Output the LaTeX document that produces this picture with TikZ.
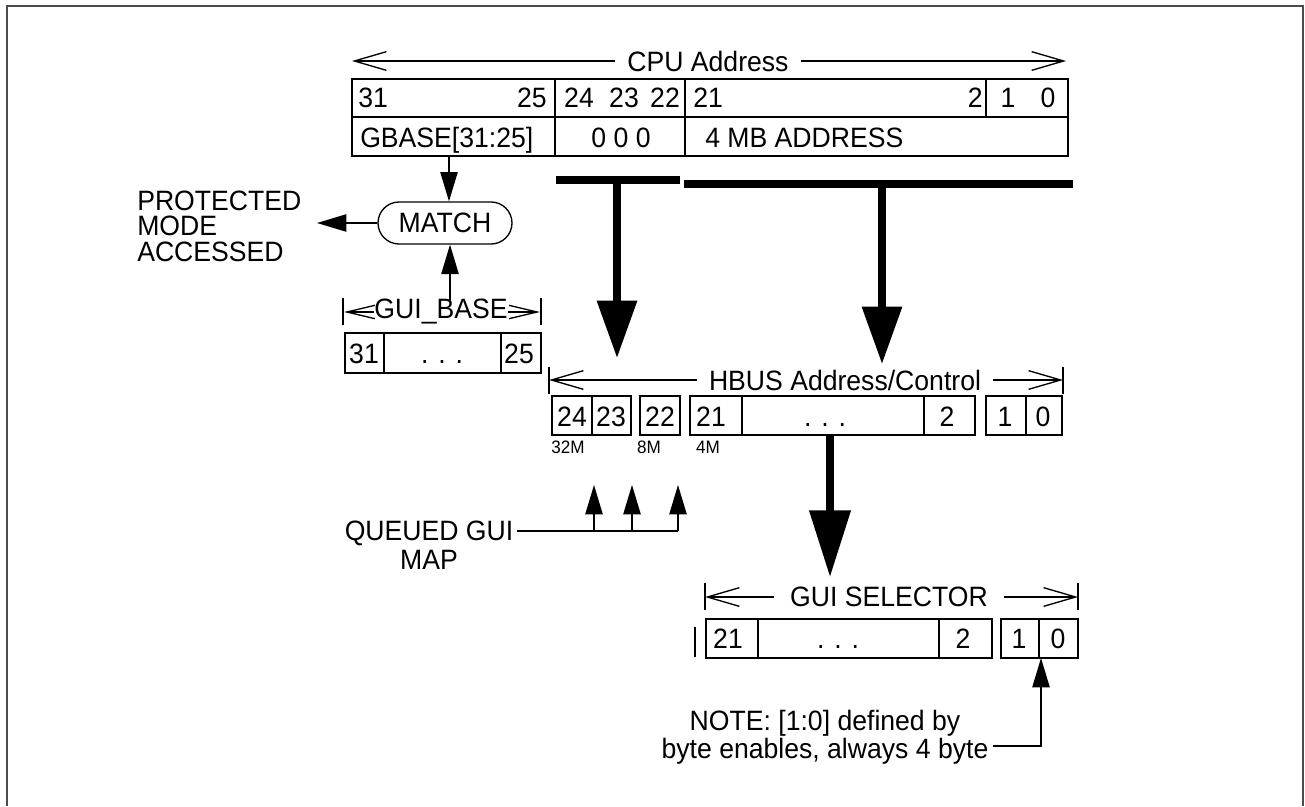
\documentclass[tikz,border=0pt]{standalone}
\usepackage{fontspec}
\setmainfont{Liberation Sans}[FakeStretch=0.95]
\usetikzlibrary{arrows.meta}
\tikzset{
	lbl/.style={font=\fontsize{21}{21}\selectfont, inner sep=0pt},
	tiny/.style={font=\fontsize{13.5}{13.5}\selectfont, inner sep=0pt},
	box/.style={draw, line width=1.9pt},
	thin/.style={line width=1pt},
	arr/.style={thin, -{Triangle[length=22pt,width=13pt]}},
	dimtip/.style={thin, -{Straight Barb[length=24pt,width=14pt]}},
	smalltip/.style={thin, -{Straight Barb[length=21pt,width=10pt]}},
	bus/.style={line width=6pt},
	busarr/.style={line width=5.5pt, -{Triangle[length=43pt,width=29pt]}},
	bigarr/.style={line width=5.5pt, -{Triangle[length=50pt,width=30pt]}},
}

\begin{document}
\begin{tikzpicture}[x=0.75pt,y=-0.75pt]
	\useasboundingbox (0,0) rectangle (1305,806);
	\draw[line width=1.5pt, black!70] (7,806) -- (7,6) -- (1303,6) -- (1303,806);
	
	% CPU address
	\coordinate (cpuL) at (352,61);
	\coordinate (cpuR) at (1066,61);
	\node[lbl, inner xsep=9pt] (cpu) at (708,61) {CPU Address};
	\draw[dimtip] (cpu) -- (cpuL);
	\draw[dimtip] (cpu) -- (cpuR);
	
	\draw[box] (352,79) rectangle (1068,117);
	\draw[box] (352,117) rectangle (1068,156);
	\draw[thin] (555,79) -- (555,156);
	\draw[thin] (685,79) -- (685,156);
	\draw[thin] (986,79) -- (986,117);
	\node[lbl, anchor=base west] (c31) at (358,108) {31};
	\node[lbl, anchor=base east] (c25) at (547,108) {25};
	\node[lbl, anchor=base] (c24) at (579,108) {24};
	\node[lbl, anchor=base] (c23) at (624,108) {23};
	\node[lbl, anchor=base] (c22) at (665,108) {22};
	\node[lbl, anchor=base west] (c21) at (693,108) {21};
	\node[lbl, anchor=base east] (c2) at (983,108) {2};
	\node[lbl, anchor=base] (c1) at (1008,108) {1};
	\node[lbl, anchor=base] (c0) at (1048,108) {0};
	\node[lbl, anchor=base west] (gbase) at (360,147) {GBASE[31:25]};
	\node[lbl, anchor=base] (zeros) at (621,147) {0 0 0};
	\node[lbl, anchor=base west] (mb4) at (705,147) {4 MB ADDRESS};
	
	% match logic
	\node[lbl, draw, thin, rounded corners=15.75pt, minimum width=100.5pt, minimum height=31.5pt] (match) at (445,223) {MATCH};
	\coordinate (gbtap) at (449,156);
	\draw[arr] (gbtap) -- (gbtap |- match.north);
	\node[lbl, anchor=west, align=left, font=\fontsize{21}{19.1}\selectfont] (prot) at (137,226) {PROTECTED\\MODE\\ACCESSED};
	\coordinate (protip) at (317,223);
	\draw[arr] (match.west) -- (protip);
	
	% gui base register
	\node[lbl] (gbtxt) at (441,312) {GUI\_BASE};
	\coordinate (gbL) at (344,312);
	\coordinate (gbR) at (540,312);
	\draw[smalltip] (gbtxt) -- (gbL);
	\draw[smalltip] (gbtxt) -- (gbR);
	\draw[thin] (343,298) -- (343,325);
	\draw[thin] (541,298) -- (541,325);
	\coordinate (gbup) at (450,302);
	\draw[arr] (gbup) -- (gbup |- match.south);
	\draw[box] (345,333) rectangle (541,373);
	\draw[thin] (384,333) -- (384,373);
	\draw[thin] (501,333) -- (501,373);
	\node[lbl, anchor=base] (g31) at (364,363) {31};
	\node[lbl, anchor=base] (gdots) at (442,363) {. . .};
	\node[lbl, anchor=base] (g25) at (519,363) {25};
	
	% busses
	\draw[bus] (556,180) -- (680,180);
	\draw[bus] (684,184) -- (1073,184);
	\coordinate (bus1) at (617,180);
	\coordinate (bus2) at (882,184);
	\coordinate (hb1) at (617,358);
	\coordinate (hb2) at (882,364);
	\draw[busarr] (bus1) -- (hb1);
	\draw[busarr] (bus2) -- (hb2);
	
	% hbus address
	\node[lbl, inner xsep=9pt] (hbus) at (845,380) {HBUS Address/Control};
	\coordinate (hbL) at (549,380);
	\coordinate (hbR) at (1063,380);
	\draw[dimtip] (hbus) -- (hbL);
	\draw[dimtip] (hbus) -- (hbR);
	\draw[thin] (549,367) -- (549,394);
	\draw[thin] (1063,367) -- (1063,394);
	\draw[box] (552,396) rectangle (631,435);
	\draw[thin] (592,396) -- (592,435);
	\draw[box] (640,396) rectangle (680,435);
	\draw[box] (690,396) rectangle (975,435);
	\draw[thin] (742,396) -- (742,435);
	\draw[thin] (924,396) -- (924,435);
	\draw[box] (986,396) rectangle (1062,435);
	\draw[thin] (1026,396) -- (1026,435);
	\node[lbl, anchor=base] (h24) at (572,426) {24};
	\node[lbl, anchor=base] (h23) at (611,426) {23};
	\node[lbl, anchor=base] (h22) at (660,426) {22};
	\node[lbl, anchor=base] (h21) at (711,426) {21};
	\node[lbl, anchor=base] (hdots) at (825,426) {. . .};
	\node[lbl, anchor=base] (h2) at (947,426) {2};
	\node[lbl, anchor=base] (h1) at (1005,426) {1};
	\node[lbl, anchor=base] (h0) at (1043,426) {0};
	\node[tiny, anchor=base] (m32) at (568,453) {32M};
	\node[tiny, anchor=base] (m8) at (649,453) {8M};
	\node[tiny, anchor=base] (m4) at (708,453) {4M};
	\coordinate (hbot) at (830,435);
	\coordinate (seltop) at (830,577);
	\draw[bigarr] (hbot) -- (seltop);
	
	% queued gui map
	\node[lbl, anchor=north, align=center, font=\fontsize{21}{21.7}\selectfont] (queued) at (429,521) {QUEUED GUI\\MAP};
	\coordinate (qstart) at (517,531);
	\coordinate (qend) at (678,531);
	\draw[thin] (qstart) -- (qend);
	\foreach \x in {594,632,678}
		\draw[arr] (\x,531) -- (\x,485);
	
	% gui selector
	\node[lbl, inner xsep=12pt] (gsel) at (889,597) {GUI SELECTOR};
	\coordinate (gsL) at (705,597);
	\coordinate (gsR) at (1078,597);
	\draw[dimtip] (gsel) -- (gsL);
	\draw[dimtip] (gsel) -- (gsR);
	\draw[thin] (705,583) -- (705,610);
	\draw[thin] (1078,583) -- (1078,610);
	\draw[thin] (695,627) -- (695,657);
	\draw[box] (706,619) rectangle (992,658);
	\draw[thin] (758,619) -- (758,658);
	\draw[thin] (939,619) -- (939,658);
	\draw[box] (1001,619) rectangle (1078,658);
	\draw[thin] (1039,619) -- (1039,658);
	\node[lbl, anchor=base] (s21) at (728,648) {21};
	\node[lbl, anchor=base] (sdots) at (838,648) {. . .};
	\node[lbl, anchor=base] (s2) at (963,648) {2};
	\node[lbl, anchor=base] (s1) at (1019,648) {1};
	\node[lbl, anchor=base] (s0) at (1058,648) {0};
	
	% note
	\node[lbl, anchor=north, align=center] (note) at (825,710) {NOTE: [1:0] defined by\\byte enables, always 4 byte};
	\coordinate (notetail) at (993,746);
	\coordinate (selB) at (1041,658);
	\draw[arr] (notetail) -| (selB);
\end{tikzpicture}
\end{document}
